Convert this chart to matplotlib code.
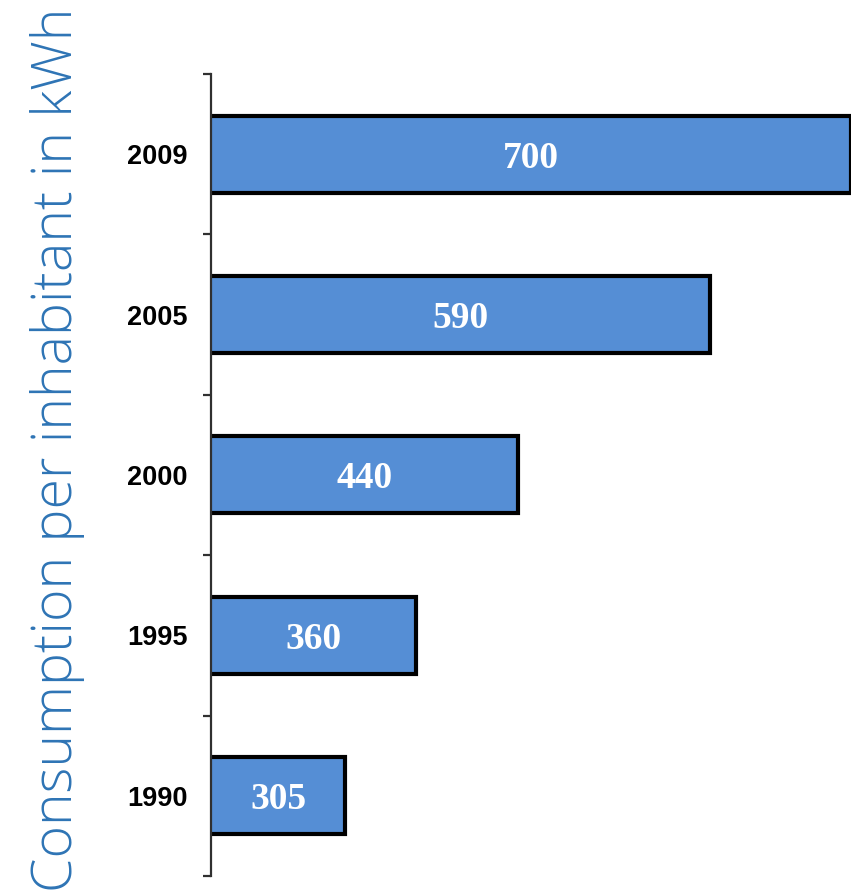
import matplotlib.pyplot as plt
from matplotlib.ticker import FixedLocator

years = ['1990', '1995', '2000', '2005', '2009']
consumption = [305, 360, 440, 590, 700]

fig = plt.figure(figsize=(8.53, 8.91), dpi=100)
ax = fig.add_axes([0.2474, 0.0168, 0.7503, 0.9002])

pos = list(range(len(years)))
bars = ax.barh(pos, consumption, height=0.48, left=0, color='#558ED5',
               edgecolor='black', linewidth=3.0)

ax.set_xlim(200, 700)
ax.set_ylim(-0.5, len(years) - 0.5)

# value labels centred in the visible part of each bar
for p, v in zip(pos, consumption):
    ax.text((200 + v) / 2, p, str(v), ha='center', va='center_baseline', color='white',
            fontsize=27, fontweight='bold', family='Liberation Serif')

ax.set_yticks(pos)
ax.set_yticklabels(years, fontsize=19.5, fontweight='bold', family='Liberation Sans')
ax.yaxis.set_minor_locator(FixedLocator([p - 0.5 for p in pos] + [len(years) - 0.5]))
ax.tick_params(axis='y', which='major', length=0, pad=17)
ax.tick_params(axis='y', which='minor', length=6, width=1.6, color='#303030')
ax.set_xticks([])

for s in ['top', 'right', 'bottom']:
    ax.spines[s].set_visible(False)
ax.spines['left'].set_linewidth(1.6)
ax.spines['left'].set_color('#303030')

fig.text(58 / 853, 0.495, 'Consumption per inhabitant in kWh', rotation=90,
         ha='center', va='center', color='#2E74B5', fontsize=40,
         family='Open Sans', fontweight='light')

fig.savefig('out.png', dpi=100)
